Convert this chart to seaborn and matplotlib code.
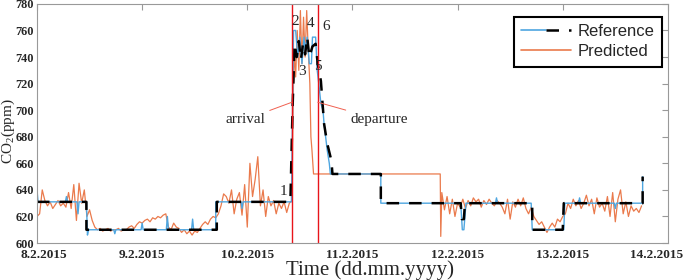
import numpy as np
import pandas as pd
import matplotlib
matplotlib.use("Agg")
import matplotlib.pyplot as plt
import matplotlib.transforms as mtransforms
import seaborn as sns
from matplotlib.legend_handler import HandlerTuple

# time axis in days since 8.2.2015 00:00
day_labels = ["8.2.2015", "9.2.2015", "10.2.2015", "11.2.2015", "12.2.2015", "13.2.2015", "14.2.2015"]

# reference (black dashed) polyline
ref_t = [0, 0.47, 0.47, 1.71, 1.71, 2.41, 2.43, 2.45, 2.47, 2.49, 2.51, 2.53, 2.55, 2.57, 2.59,
         2.62, 2.65, 2.67, 2.70, 2.73, 2.76, 2.80, 2.81, 3.27, 3.27, 4.03, 4.04, 4.06, 4.07,
         4.71, 4.71, 5.00, 5.01, 5.76, 5.76]
ref_v = [631, 631, 610, 610, 631, 631, 700, 750, 740, 752, 738, 750, 742, 755, 740,
         748, 750, 735, 722, 690, 675, 662, 652, 652, 630, 630, 618, 618, 630,
         630, 610, 610, 630, 630, 650]

# blue line underneath the reference
blue_t = [0, 0.01, 0.02, 0.27, 0.28, 0.29, 0.38, 0.39, 0.40, 0.47, 0.48, 0.49, 0.73, 0.74, 0.75,
          0.99, 1.0, 1.01, 1.23, 1.24, 1.25, 1.47, 1.48, 1.49, 1.70, 1.70, 1.94, 1.95, 1.96,
          2.42, 2.44, 2.46, 2.48, 2.50, 2.52, 2.54, 2.55, 2.57, 2.59, 2.61, 2.62, 2.65, 2.665,
          2.68, 2.70, 2.72, 2.73, 2.745, 2.76, 2.78, 2.79, 3.27, 3.27, 4.03, 4.045, 4.06, 4.08,
          4.36, 4.37, 4.38, 4.70, 4.71, 5.01, 5.02, 5.15, 5.16, 5.17, 5.49, 5.50, 5.51, 5.76, 5.76]
blue_v = [640, 631, 631, 631, 635, 631, 631, 622, 631, 631, 606, 610, 610, 607, 610,
          610, 615, 610, 610, 620, 610, 610, 618, 610, 610, 631, 631, 626, 631,
          631, 760, 760, 740, 755, 735, 755, 745, 755, 735, 735, 755, 755, 730,
          720, 705, 700, 690, 680, 670, 660, 652, 652, 630, 630, 610, 610, 630,
          630, 634, 630, 630, 610, 610, 630, 630, 634, 630, 630, 626, 630, 630, 650]

# predicted (orange)
pred_t_a = np.arange(0, 2.4001, 0.025)
pred_v_a = [620, 622, 640, 632, 628, 631, 626, 629, 632, 628, 630, 627, 638, 626, 644, 617,
            645, 630, 640, 620, 625, 617, 612, 610, 611, 609, 610, 611, 609, 610, 610, 611,
            609, 610, 610, 612, 613, 611, 614, 616, 615, 617, 618, 616, 619, 618, 620, 619,
            621, 622, 612, 610, 615, 612, 611, 608, 610, 607, 609, 606, 609, 608, 611, 614,
            616, 614, 618, 620, 619, 622, 628, 637, 635, 630, 640, 622, 633, 638, 621, 644,
            612, 660, 635, 648, 665, 628, 640, 620, 635, 628, 632, 622, 630, 626, 631, 623, 630]
pred_t_b = [2.425, 2.435, 2.445, 2.46, 2.475, 2.49, 2.505, 2.52, 2.535, 2.55, 2.565, 2.58,
            2.595, 2.605, 2.615, 2.63, 3.835, 3.84]
pred_v_b = [632, 700, 745, 725, 760, 730, 775, 735, 770, 740, 775, 745,
            720, 680, 670, 652, 652, 605]
pred_t_c = np.arange(3.85, 5.7601, 0.025)
pred_v_c = [638, 625, 635, 622, 633, 620, 630, 627, 633, 626, 632, 628, 634, 631, 633, 627,
            632, 629, 633, 630, 628, 632, 630, 627, 622, 633, 618, 631, 627, 633, 628, 634,
            626, 622, 627, 620, 617, 614, 616, 612, 608, 612, 615, 612, 618, 616, 620, 622,
            630, 626, 633, 628, 632, 626, 630, 636, 628, 633, 622, 634, 627, 630, 624, 635,
            620, 638, 616, 633, 640, 622, 631, 620, 628, 624, 626, 623, 628]

arrival_day = 2.425
departure_day = 2.67

# event markers 1..6 (day, ppm)
event_labels = ["1", "2", "3", "4", "5", "6"]
event_t = [2.34, 2.46, 2.525, 2.60, 2.675, 2.75]
event_v = [639, 767, 729, 765, 733, 763]

n_a = min(len(pred_t_a), len(pred_v_a))
n_c = min(len(pred_t_c), len(pred_v_c))
pred_t = list(pred_t_a[:n_a]) + pred_t_b + list(pred_t_c[:n_c])
pred_v = pred_v_a[:n_a] + pred_v_b + pred_v_c[:n_c]

df_ref = pd.DataFrame({"t": ref_t, "v": ref_v})
df_blue = pd.DataFrame({"t": blue_t, "v": blue_v})
df_pred = pd.DataFrame({"t": pred_t, "v": pred_v})

sns.set_style("white")
plt.rcParams["font.family"] = ["Liberation Serif", "DejaVu Serif"]
plt.rcParams["mathtext.fontset"] = "custom"
plt.rcParams["mathtext.rm"] = "Liberation Serif"

fig = plt.figure(figsize=(6.85, 2.8), dpi=100)
ax = fig.add_axes([0.054, 0.132, 0.921, 0.854])

c_blue = "#4ea6e0"
c_orange = "#ea7a4c"

sns.lineplot(data=df_pred, x="t", y="v", estimator=None, sort=False, color=c_orange, linewidth=0.9, ax=ax)
sns.lineplot(data=df_blue, x="t", y="v", estimator=None, sort=False, color=c_blue, linewidth=1.0, ax=ax)
sns.lineplot(data=df_ref, x="t", y="v", estimator=None, sort=False, color="black", linewidth=1.8,
             dashes=False, ax=ax)
ax.lines[-1].set_dashes([5, 4])

ax.axvline(arrival_day, color="#e8141a", linewidth=1.0)
ax.axvline(departure_day, color="#e8141a", linewidth=1.0)

for lab, t, v in zip(event_labels, event_t, event_v):
    ax.text(t, v, lab, fontsize=11, ha="center", va="center")

ax.annotate("arrival", xy=(arrival_day, 706), xytext=(2.17, 693), fontsize=11,
            ha="right", va="center",
            arrowprops=dict(arrowstyle="-", color="#f06050", lw=0.7, shrinkA=1, shrinkB=0))
ax.annotate("departure", xy=(departure_day, 706), xytext=(2.98, 693), fontsize=11,
            ha="left", va="center",
            arrowprops=dict(arrowstyle="-", color="#f06050", lw=0.7, shrinkA=1, shrinkB=0))

ax.set_xlim(0, 6)
ax.set_ylim(600, 780)
ax.set_xticks(range(len(day_labels)))
ax.set_xticklabels(day_labels)
ax.set_yticks(np.arange(600, 781, 20))
ax.tick_params(direction="in", length=4, width=0.8, color="#999999", top=True, right=True, pad=2)
ax.tick_params(axis="x", labelsize=9.5, pad=4)
ax.tick_params(axis="y", labelsize=8.8)
for lbl in ax.get_xticklabels() + ax.get_yticklabels():
    lbl.set_fontweight("bold")
# first and last date labels pulled inward
xl = ax.get_xticklabels()
xl[0].set_transform(xl[0].get_transform() + mtransforms.ScaledTranslation(0.07, 0, fig.dpi_scale_trans))
xl[-1].set_transform(xl[-1].get_transform() + mtransforms.ScaledTranslation(-0.11, 0, fig.dpi_scale_trans))
for sp in ax.spines.values():
    sp.set_color("#999999")
    sp.set_linewidth(0.8)

ax.set_xlabel("Time (dd.mm.yyyy)", fontsize=15)
ax.xaxis.set_label_coords(0.528, -0.074)
ax.set_ylabel("CO$_\\mathregular{2}$(ppm)", fontsize=11)
ax.yaxis.set_label_coords(-0.031, 0.47)

h_blue = plt.Line2D([], [], color=c_blue, linewidth=1.2)
h_black = plt.Line2D([], [], color="black", linewidth=1.8, dashes=[5, 4])
h_pred = plt.Line2D([], [], color=c_orange, linewidth=1.2)
leg = ax.legend([(h_blue, h_black), h_pred], ["Reference", "Predicted"],
                handler_map={tuple: HandlerTuple(ndivide=None, pad=0)},
                loc="upper right", bbox_to_anchor=(0.99, 0.946), fancybox=False, framealpha=1,
                prop={"family": "Liberation Sans", "size": 12}, handlelength=3.0,
                borderpad=0.45, labelspacing=0.3, handletextpad=0.35, borderaxespad=0)
leg.get_frame().set_edgecolor("black")
leg.get_frame().set_linewidth(1.5)

fig.savefig("out.png", dpi=100)
